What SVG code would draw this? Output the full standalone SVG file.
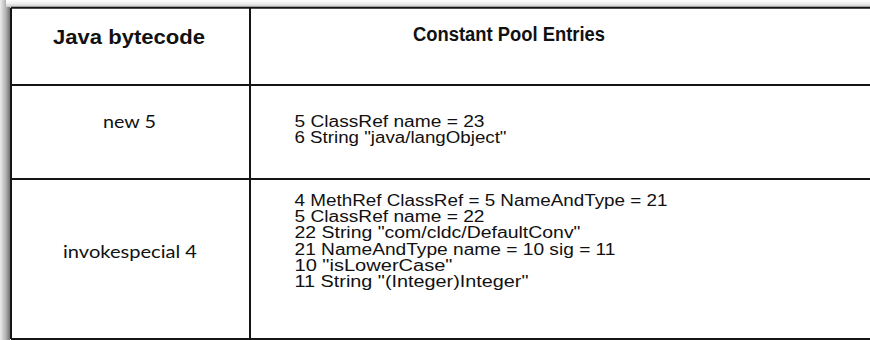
<svg xmlns="http://www.w3.org/2000/svg" width="870" height="340" viewBox="0 0 870 340">
  <defs>
    <linearGradient id="shL" x1="0" y1="0" x2="1" y2="0">
      <stop offset="0" stop-color="#ededed"/>
      <stop offset="0.6" stop-color="#b0b0b0"/>
      <stop offset="1" stop-color="#707070"/>
    </linearGradient>
    <linearGradient id="shT" x1="0" y1="0" x2="0" y2="1">
      <stop offset="0" stop-color="#ffffff"/>
      <stop offset="0.5" stop-color="#efefef"/>
      <stop offset="1" stop-color="#c8c8c8"/>
    </linearGradient>
    <style>
      .grid { stroke: #151515; stroke-width: 2; fill: none; }
      .hdr { font-family: "Liberation Sans", Arial, sans-serif; font-weight: bold; font-size: 19.5px; fill: #111; text-anchor: middle; }
      .op { font-family: Lato, "Open Sans", sans-serif; font-size: 18px; fill: #111; text-anchor: middle; }
      .cp { font-family: "Liberation Sans", Arial, sans-serif; font-size: 16px; fill: #111; }
    </style>
  </defs>
  <rect x="0" y="0" width="870" height="340" fill="#ffffff"/>
  <rect x="0" y="0" width="10" height="340" fill="url(#shL)"/>
  <rect x="6" y="0" width="864" height="7" fill="url(#shT)"/>
  <rect x="11" y="8" width="870" height="331" fill="#ffffff"/>

  <g id="grid">
    <path class="grid" d="M11,7.7 H872 M11,7.7 V339 M250,7.7 V339 M11,85 H872 M11,179 H872 M11,339 H872"/>
  </g>

  <g id="header-bytecode">
    <text class="hdr" x="129" y="43.5" textLength="152" lengthAdjust="spacingAndGlyphs">Java bytecode</text>
  </g>
  <g id="header-pool">
    <text class="hdr" x="509" y="41" textLength="192" lengthAdjust="spacingAndGlyphs">Constant Pool Entries</text>
  </g>

  <g id="op-new">
    <text class="op" x="129.5" y="128" textLength="53" lengthAdjust="spacingAndGlyphs">new 5</text>
  </g>
  <g id="pool-new">
    <text class="cp" x="294.5" y="126.5" textLength="190" lengthAdjust="spacingAndGlyphs">5 ClassRef name = 23</text>
    <text class="cp" x="294.5" y="142.5" textLength="212" lengthAdjust="spacingAndGlyphs">6 String "java/langObject"</text>
  </g>

  <g id="op-invokespecial">
    <text class="op" x="130" y="258" textLength="134" lengthAdjust="spacingAndGlyphs">invokespecial 4</text>
  </g>
  <g id="pool-invokespecial">
    <text class="cp" x="294.5" y="206" textLength="373" lengthAdjust="spacingAndGlyphs">4 MethRef ClassRef = 5 NameAndType = 21</text>
    <text class="cp" x="294.5" y="222" textLength="190" lengthAdjust="spacingAndGlyphs">5 ClassRef name = 22</text>
    <text class="cp" x="294.5" y="238" textLength="286" lengthAdjust="spacingAndGlyphs">22 String "com/cldc/DefaultConv"</text>
    <text class="cp" x="294.5" y="254.5" textLength="321" lengthAdjust="spacingAndGlyphs">21 NameAndType name = 10 sig = 11</text>
    <text class="cp" x="294.5" y="270.5" textLength="158" lengthAdjust="spacingAndGlyphs">10 "isLowerCase"</text>
    <text class="cp" x="294.5" y="286.5" textLength="234" lengthAdjust="spacingAndGlyphs">11 String "(Integer)Integer"</text>
  </g>
</svg>
